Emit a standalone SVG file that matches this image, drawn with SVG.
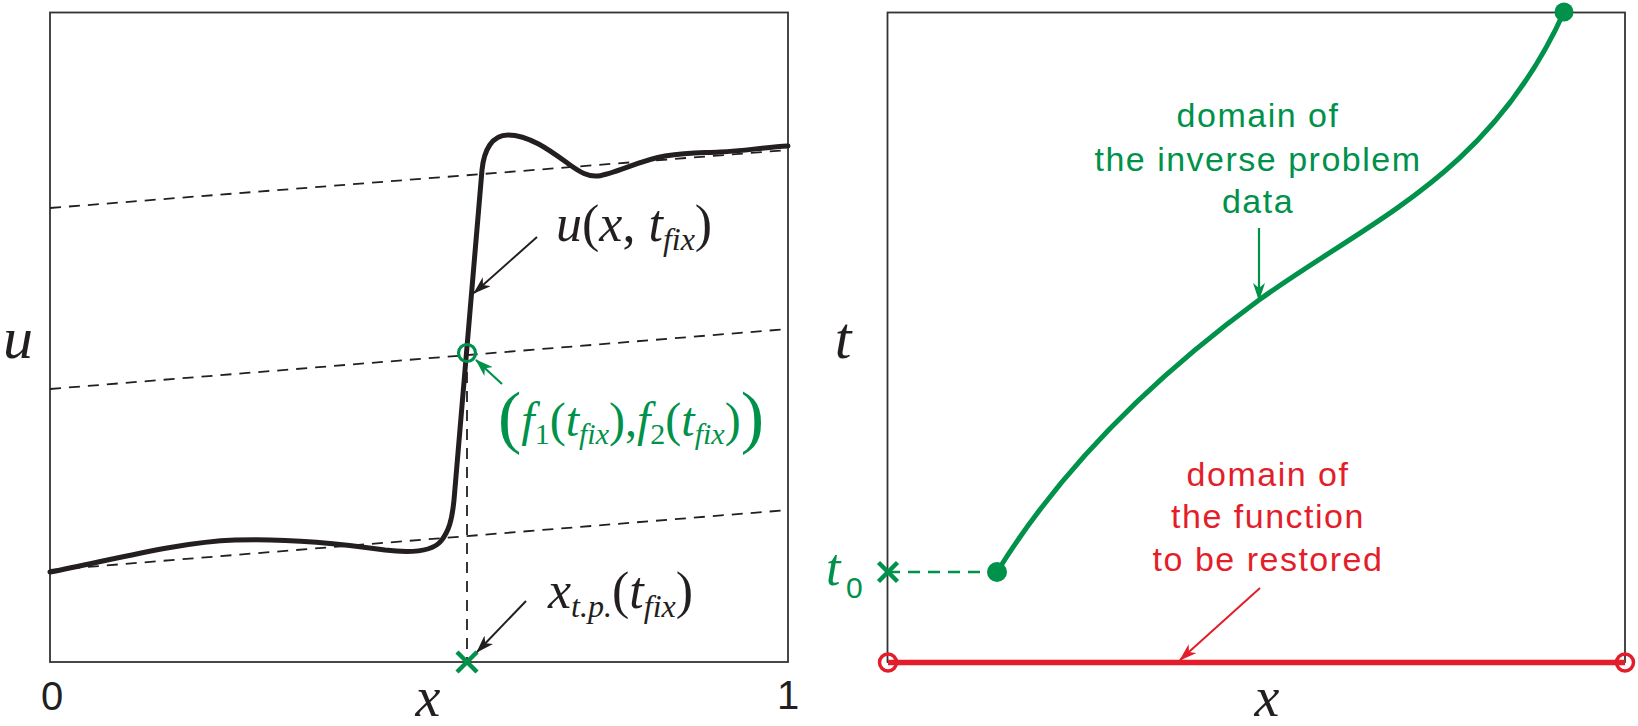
<svg xmlns="http://www.w3.org/2000/svg" width="1638" height="726" viewBox="0 0 1638 726">
<style>
.frame{fill:none;stroke:#333;stroke-width:1.8}
.dash{fill:none;stroke:#231f20;stroke-width:1.8;stroke-dasharray:11 8}
.curve{fill:none;stroke:#231f20;stroke-width:5;stroke-linecap:round;stroke-linejoin:round}
.gcurve{fill:none;stroke:#00914a;stroke-width:5;stroke-linecap:round}
.rline{fill:none;stroke:#e31e2a;stroke-width:5.5}
.math{font-family:"Liberation Serif",serif;fill:#231f20}
.it{font-style:italic}
.sans{font-family:"Liberation Sans",Arial,sans-serif}
.gtxt{fill:#00914a;font-size:34px;letter-spacing:1.5px}
.rtxt{fill:#e31e2a;font-size:34px;letter-spacing:1.5px}
.arr-k{stroke:#231f20;stroke-width:2;fill:none}
.arr-g{stroke:#00914a;stroke-width:2.2;fill:none}
.arr-r{stroke:#e31e2a;stroke-width:2;fill:none}
.xmark{fill:none;stroke:#00914a;stroke-width:4.5}
</style>
<defs>
<marker id="ah-k" markerUnits="userSpaceOnUse" markerWidth="18" markerHeight="12" refX="17" refY="6" orient="auto"><path d="M0,0 L18,6 L0,12 L5,6 z" fill="#231f20"/></marker>
<marker id="ah-g" markerUnits="userSpaceOnUse" markerWidth="18" markerHeight="12" refX="17" refY="6" orient="auto"><path d="M0,0 L18,6 L0,12 L5,6 z" fill="#00914a"/></marker>
<marker id="ah-r" markerUnits="userSpaceOnUse" markerWidth="18" markerHeight="12" refX="17" refY="6" orient="auto"><path d="M0,0 L18,6 L0,12 L5,6 z" fill="#e31e2a"/></marker>
</defs>

<g id="left-panel">
<rect class="frame" x="50" y="12.5" width="738" height="649.5"/>
<line class="dash" x1="50" y1="208" x2="788" y2="150"/>
<line class="dash" x1="50" y1="389" x2="788" y2="329"/>
<line class="dash" x1="50" y1="570" x2="788" y2="510"/>
<line class="dash" x1="467" y1="353" x2="467" y2="662"/>
<path class="curve" d="M50,572 C120,558 180,542 235,540 C290,538 350,545 385,550 C410,553 432,552 441,541 C449,531 452,520 454,500 L482,170 C484,150 492,135 508,135 C530,135 552,152 570,165 C580,172 588,177 598,176 C615,174 640,160 665,156 C690,152 700,153 720,152 C745,151 765,147 788,146"/>
<circle cx="467" cy="353" r="8.5" fill="none" stroke="#00914a" stroke-width="3.2"/>
<path class="xmark" d="M457,652 L477,672 M457,672 L477,652"/>
</g>

<g id="left-labels">
<text class="math it" x="3" y="358" font-size="60">u</text>
<text class="sans" x="52" y="710" font-size="40" text-anchor="middle" fill="#231f20">0</text>
<text class="sans" x="788" y="709" font-size="40" text-anchor="middle" fill="#231f20">1</text>
<text class="math it" x="428" y="716" font-size="56" text-anchor="middle">x</text>
<text class="math" x="556" y="241" font-size="52"><tspan class="it">u</tspan>(<tspan class="it">x</tspan>, <tspan class="it">t</tspan><tspan class="it" font-size="32" dy="9">fix</tspan><tspan dy="-9">)</tspan></text>
<text class="math" x="548" y="608" font-size="52"><tspan class="it">x</tspan><tspan class="it" font-size="32" dy="9">t.p.</tspan><tspan dy="-9">(</tspan><tspan class="it">t</tspan><tspan class="it" font-size="32" dy="9">fix</tspan><tspan dy="-9">)</tspan></text>
<text class="math" x="498" y="436" font-size="48" style="fill:#00914a"><tspan font-size="70" dy="4">(</tspan><tspan class="it" dy="-4">f</tspan><tspan font-size="30" dy="8">1</tspan><tspan dy="-8">(</tspan><tspan class="it">t</tspan><tspan class="it" font-size="30" dy="8">fix</tspan><tspan dy="-8">),</tspan><tspan class="it">f</tspan><tspan font-size="30" dy="8">2</tspan><tspan dy="-8">(</tspan><tspan class="it">t</tspan><tspan class="it" font-size="30" dy="8">fix</tspan><tspan dy="-8">)</tspan><tspan font-size="70" dy="4">)</tspan></text>
</g>

<g id="right-panel">
<rect class="frame" x="887.5" y="12.5" width="737.5" height="649.5"/>
<line x1="888" y1="572" x2="997" y2="572" stroke="#00914a" stroke-width="2.5" stroke-dasharray="12 8"/>
<path class="gcurve" d="M997,572 C1060,470 1150,380 1259,300 C1370,220 1490,175 1564,12"/>
<circle cx="997" cy="572" r="10" fill="#00914a"/>
<circle cx="1564" cy="12" r="9.5" fill="#00914a"/>
<path class="xmark" d="M878.5,562.5 L897.5,581.5 M878.5,581.5 L897.5,562.5"/>
<line class="rline" x1="888" y1="662.5" x2="1625" y2="662.5"/>
<circle cx="888" cy="662.5" r="8.5" fill="none" stroke="#e31e2a" stroke-width="3.5"/>
<circle cx="1625" cy="662.5" r="8.5" fill="none" stroke="#e31e2a" stroke-width="3.5"/>
</g>

<g id="right-labels">
<text class="math it" x="843" y="358" font-size="60" text-anchor="middle">t</text>
<text class="math it" x="826" y="585" font-size="52" style="fill:#00914a">t</text>
<text class="sans" x="846" y="598" font-size="30" fill="#00914a">0</text>
<text class="math it" x="1267" y="716" font-size="56" text-anchor="middle">x</text>
<text class="sans gtxt" text-anchor="middle"><tspan x="1258" y="127">domain of</tspan><tspan x="1258" y="171">the inverse problem</tspan><tspan x="1258" y="213">data</tspan></text>
<text class="sans rtxt" text-anchor="middle"><tspan x="1268" y="486">domain of</tspan><tspan x="1268" y="528">the function</tspan><tspan x="1268" y="571">to be restored</tspan></text>
</g>

<g id="connectors">
<line class="arr-k" x1="537" y1="237" x2="474" y2="293" marker-end="url(#ah-k)"/>
<line class="arr-g" x1="502" y1="384" x2="476" y2="360" marker-end="url(#ah-g)"/>
<line class="arr-k" x1="526" y1="601" x2="477" y2="652" marker-end="url(#ah-k)"/>
<line class="arr-g" x1="1259" y1="228" x2="1259" y2="300" marker-end="url(#ah-g)"/>
<line class="arr-r" x1="1260" y1="588" x2="1180" y2="660" marker-end="url(#ah-r)"/>
</g>
</svg>
